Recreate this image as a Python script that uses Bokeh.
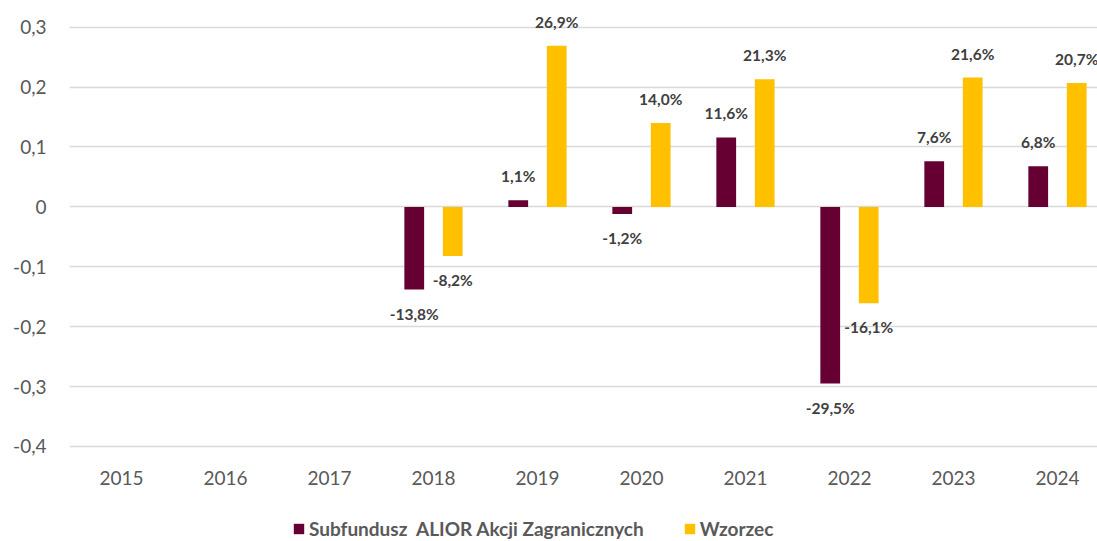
from bokeh.plotting import figure
from bokeh.models import ColumnDataSource, Range1d, FixedTicker, Legend, LegendItem
from bokeh.core.properties import value
from bokeh.embed import file_html
from bokeh.resources import INLINE

years = ["2015", "2016", "2017", "2018", "2019", "2020", "2021", "2022", "2023", "2024"]
fund = [None, None, None, -0.138, 0.011, -0.012, 0.116, -0.295, 0.076, 0.068]
bench = [None, None, None, -0.082, 0.269, 0.140, 0.213, -0.161, 0.216, 0.207]
y_ticks = [-0.4, -0.3, -0.2, -0.1, 0.0, 0.1, 0.2, 0.3]
y_tick_labels = ["-0,4", "-0,3", "-0,2", "-0,1", "0", "0,1", "0,2", "0,3"]
series_names = ["Subfundusz  ALIOR Akcji Zagranicznych", "Wzorzec"]
colors = ["#660033", "#FFC000"]

FONT = "Lato"

p = figure(frame_width=1028, frame_height=536, output_backend="svg", toolbar_location=None,
           x_range=Range1d(-0.5, 9.385), y_range=Range1d(-0.5586, 0.3362),
           min_border_left=69, min_border_right=0, min_border_top=5, min_border_bottom=0)
p.outline_line_color = None
p.background_fill_color = "white"
p.border_fill_color = "white"

def make_source(vals, offset):
    xs, ys, labels, yoff = [], [], [], []
    for i, v in enumerate(vals):
        if v is None:
            continue
        xs.append(i + offset)
        ys.append(v)
        labels.append(f"{v*100:.1f}%".replace(".", ","))
        yoff.append(-24 if v >= 0 else 24)
    return ColumnDataSource(dict(x=xs, y=ys, label=labels, yoff=yoff))

renderers = []
for vals, off, col in [(fund, -0.185, colors[0]), (bench, 0.185, colors[1])]:
    src = make_source(vals, off)
    r = p.vbar(x="x", top="y", bottom=0, width=0.19, source=src, fill_color=col, line_color=None)
    renderers.append(r)
    p.text(x="x", y="y", text="label", source=src, y_offset="yoff",
           text_align="center", text_baseline="middle",
           text_font=value(FONT), text_font_style="bold", text_font_size="15.5px",
           text_color="#404040")

# axes
p.xaxis.ticker = FixedTicker(ticks=list(range(len(years))))
p.xaxis.major_label_overrides = {i: y for i, y in enumerate(years)}
p.xaxis.fixed_location = y_ticks[0]
p.yaxis.ticker = FixedTicker(ticks=y_ticks)
p.yaxis.major_label_overrides = {t: l for t, l in zip(y_ticks, y_tick_labels)}
for ax in (p.xaxis, p.yaxis):
    ax.axis_line_color = None
    ax.major_tick_line_color = None
    ax.minor_tick_line_color = None
    ax.major_label_text_font = FONT
    ax.major_label_text_font_size = "19px"
    ax.major_label_text_color = "#595959"
p.yaxis.major_label_standoff = 17
p.xaxis.major_label_standoff = 19

p.xgrid.grid_line_color = None
p.ygrid.ticker = FixedTicker(ticks=y_ticks)
p.ygrid.grid_line_color = "#D9D9D9"
p.ygrid.grid_line_width = 1.3

legend = Legend(items=[LegendItem(label=series_names[0], renderers=[renderers[0]]),
                       LegendItem(label=series_names[1], renderers=[renderers[1]])],
                orientation="horizontal", location=(223, 1))
legend.label_text_font = FONT
legend.label_text_font_style = "bold"
legend.label_text_font_size = "19px"
legend.label_text_color = "#595959"
legend.glyph_width = 13
legend.glyph_height = 13
legend.label_standoff = 4
legend.spacing = 39
legend.border_line_color = None
legend.background_fill_alpha = 0
legend.padding = 2
legend.margin = 0
p.add_layout(legend, "center")

open("out.html", "w").write(file_html(p, INLINE))
